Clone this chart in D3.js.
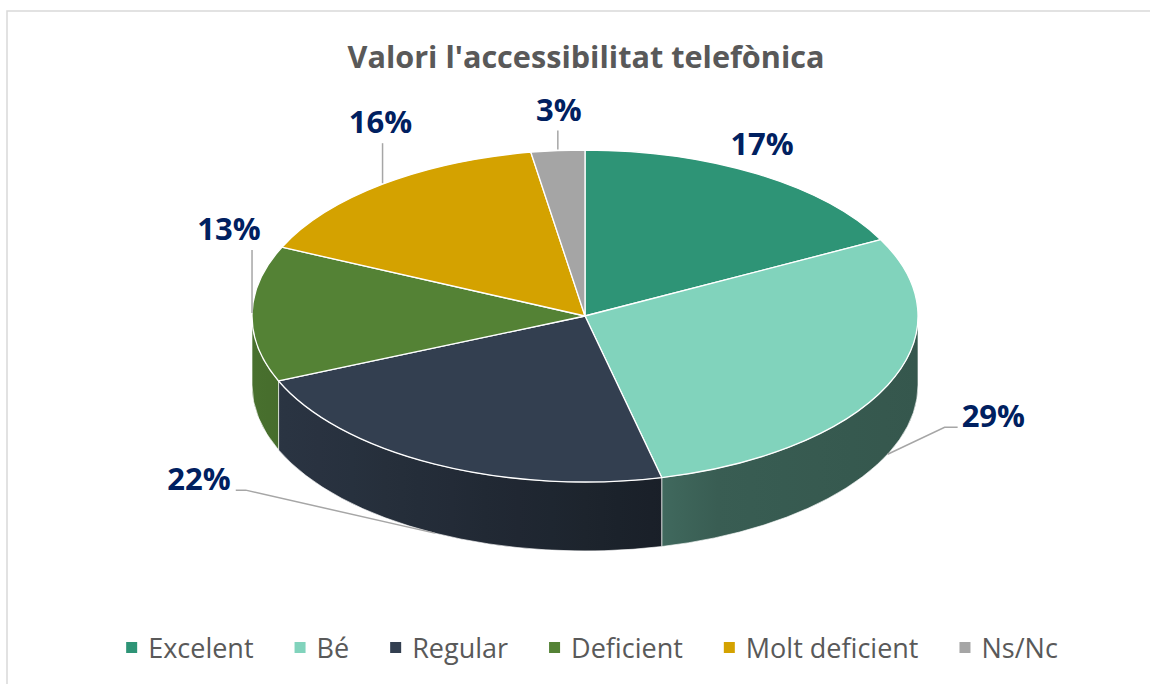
<!DOCTYPE html>
<html>
<head>
<meta charset="utf-8">
<script src="https://cdnjs.cloudflare.com/ajax/libs/d3/7.8.5/d3.min.js"></script>
<style>
  body { margin: 0; background: #fff; }
  svg { display: block; }
</style>
</head>
<body>
<svg id="chart"></svg>
<script>
// chart data
var title = "Valori l'accessibilitat telefònica";
var categories = ["Excelent", "Bé", "Regular", "Deficient", "Molt deficient", "Ns/Nc"];
var values = [17.4, 28.9, 22.3, 13.2, 15.6, 2.6];
var valueLabels = ["17%", "29%", "22%", "13%", "16%", "3%"];
var colors = ["#2e9476", "#81d3bc", "#333f50", "#548235", "#d4a200", "#a5a5a5"];

// label placement relative to the slice anchor (dx, dy) and leader style
var labelLayout = [
    { dx: 4, dy: -19, leader: "none" },
    { dx: 74, dy: -27, leader: "right" },
    { dx: -204, dy: -43, leader: "left" },
    { dx: -23, dy: -74, leader: "up" },
    { dx: -2, dy: -51, leader: "up" },
    { dx: 1, dy: -30, leader: "up" }
];

var width = 1150, height = 684;
var cx = 585, cy = 316, rx = 333, ry = 166, depth = 69;

var svg = d3.select("#chart")
    .attr("width", width)
    .attr("height", height)
    .attr("viewBox", "0 0 " + width + " " + height);

// chart area border
svg.append("rect")
    .attr("x", 7).attr("y", 11)
    .attr("width", width + 20).attr("height", height + 20)
    .style("fill", "none")
    .style("stroke", "#d9d9d9")
    .style("stroke-width", 1.5);

var color = d3.scaleOrdinal().domain(categories).range(colors);

var pie = d3.pie().sort(null).value(function(d) { return d.value; });
var arcs = pie(categories.map(function(c, i) { return { name: c, value: values[i], label: valueLabels[i] }; }));

function ep(a, dy) {
    return [cx + rx * Math.sin(a), cy - ry * Math.cos(a) + (dy || 0)];
}

// side shading, lighter on the left, darker on the right
var shade = d3.scaleLinear().domain([0, 0.615, 0.7, 1]).range([0.86, 0.5, 0.44, 0.41]);
var defs = svg.append("defs");
arcs.forEach(function(d, i) {
    var g = defs.append("linearGradient")
        .attr("id", "side" + i)
        .attr("gradientUnits", "userSpaceOnUse")
        .attr("x1", cx - rx).attr("x2", cx + rx)
        .attr("y1", 0).attr("y2", 0);
    var base = d3.rgb(color(d.data.name));
    d3.range(0, 1.0001, 0.05).forEach(function(t) {
        var k = shade(t);
        g.append("stop")
            .attr("offset", t)
            .attr("stop-color", d3.rgb(base.r * k, base.g * k, base.b * k).formatHex());
    });
});

// sides (front half only)
var front = arcs.map(function(d, i) {
    return { i: i, s0: Math.max(d.startAngle, Math.PI / 2), s1: Math.min(d.endAngle, Math.PI * 1.5) };
}).filter(function(d) { return d.s1 > d.s0; });

svg.append("g").selectAll("path")
    .data(front)
    .enter()
    .append("path")
    .attr("d", function(d) {
        var p0 = ep(d.s0), p1 = ep(d.s1), q1 = ep(d.s1, depth), q0 = ep(d.s0, depth);
        var large = (d.s1 - d.s0) > Math.PI ? 1 : 0;
        return "M" + p0 + "A" + rx + "," + ry + " 0 " + large + " 1 " + p1 +
            "L" + q1 + "A" + rx + "," + ry + " 0 " + large + " 0 " + q0 + "Z";
    })
    .style("fill", function(d) { return "url(#side" + d.i + ")"; })
    .style("stroke", "#ffffff")
    .style("stroke-width", 0.8)
    .style("stroke-opacity", 0.8);

// top faces
svg.append("g").selectAll("path")
    .data(arcs)
    .enter()
    .append("path")
    .attr("d", function(d) {
        var p0 = ep(d.startAngle), p1 = ep(d.endAngle);
        var large = (d.endAngle - d.startAngle) > Math.PI ? 1 : 0;
        return "M" + cx + "," + cy + "L" + p0 + "A" + rx + "," + ry + " 0 " + large + " 1 " + p1 + "Z";
    })
    .style("fill", function(d) { return color(d.data.name); })
    .style("stroke", "#ffffff")
    .style("stroke-width", 1.3)
    .style("stroke-linejoin", "round");

// data labels with leader lines
var labelG = svg.append("g");
arcs.forEach(function(d, i) {
    var mid = (d.startAngle + d.endAngle) / 2;
    var isFront = Math.cos(mid) < -0.2;
    var anchor = ep(mid, isFront ? depth : 0);
    var lay = labelLayout[i];
    var lx = anchor[0] + lay.dx, ly = anchor[1] + lay.dy;
    var pts = null, textAnchor = "middle";
    if (lay.leader === "up") {
        pts = [[anchor[0], anchor[1] - 1], [anchor[0], ly + 10]];
    } else if (lay.leader === "right") {
        textAnchor = "start";
        pts = [anchor, [lx - 17, ly], [lx - 4, ly]];
    } else if (lay.leader === "left") {
        textAnchor = "end";
        pts = [anchor, [lx + 15, ly], [lx + 5, ly]];
    }
    if (pts) {
        labelG.append("path")
            .attr("d", d3.line()(pts))
            .style("fill", "none")
            .style("stroke", "#a6a6a6")
            .style("stroke-width", 1.5);
    }
    labelG.append("text")
        .attr("x", lx)
        .attr("y", ly)
        .attr("text-anchor", textAnchor)
        .style("font-family", "'Open Sans', sans-serif")
        .style("font-weight", "bold")
        .style("font-size", "31px")
        .style("fill", "#002060")
        .text(d.data.label);
});

// title
svg.append("text")
    .attr("x", 586)
    .attr("y", 68)
    .attr("text-anchor", "middle")
    .attr("textLength", 477)
    .attr("lengthAdjust", "spacingAndGlyphs")
    .style("font-family", "'Open Sans', sans-serif")
    .style("font-weight", "bold")
    .style("font-size", "30px")
    .style("fill", "#595959")
    .text(title);

// legend
var legend = svg.append("g");
var x = 0, gap = 41;
categories.forEach(function(c) {
    var item = legend.append("g");
    item.append("rect")
        .attr("x", x).attr("y", -16)
        .attr("width", 11).attr("height", 11)
        .style("fill", color(c));
    var t = item.append("text")
        .attr("x", x + 22)
        .attr("y", 0)
        .style("font-family", "'Open Sans', sans-serif")
        .style("font-size", "27px")
        .style("fill", "#595959")
        .text(c);
    x += 22 + t.node().getComputedTextLength() + gap;
});
var legendWidth = x - gap;
legend.attr("transform", "translate(" + (592 - legendWidth / 2) + ",658)");
</script>
</body>
</html>
